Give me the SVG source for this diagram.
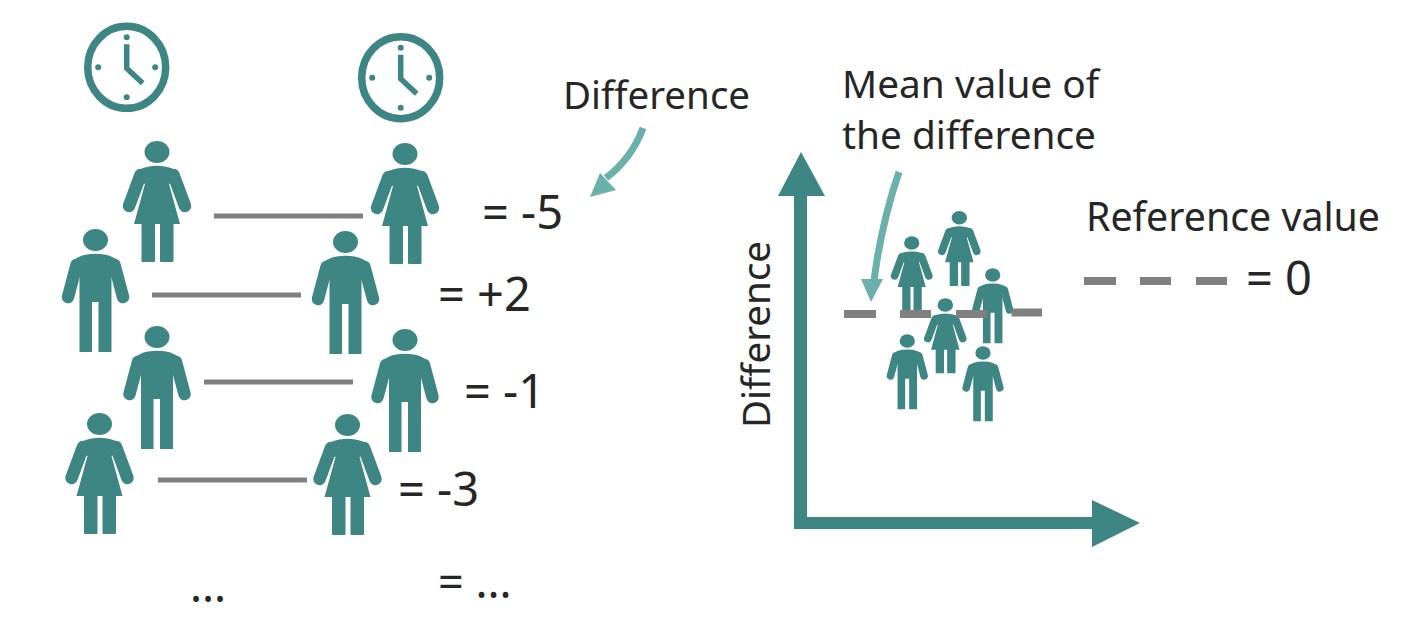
<svg xmlns="http://www.w3.org/2000/svg" width="1414" height="618" viewBox="0 0 1414 618">
<style>
text{font-family:"Noto Sans","Open Sans","Liberation Sans",sans-serif;font-size:38.500px;fill:#262626}
text.ref{font-size:39.300px}
text.mean{font-size:38.800px}
text.eq{font-size:47px}
text.dots{font-size:45px}
.p{fill:#3e8684}
.arm{fill:none;stroke:#3e8684;stroke-width:12.500;stroke-linecap:round;stroke-linejoin:round}
.clock{fill:#fff;stroke:#3e8684;stroke-width:7.500}
.hand{fill:none;stroke:#3e8684;stroke-width:5.500;stroke-linejoin:miter}
.link{stroke:#808080;stroke-width:5;fill:none}
.dash{stroke:#808080;stroke-width:8;fill:none}
.callout{fill:none;stroke:#6bb0ab;stroke-width:7}
.head{fill:#6bb0ab}
.axis{fill:#3e8684}
</style>
<defs>
<g id="female">
<ellipse class="p" cx="0" cy="0" rx="12.500" ry="11"/>
<path class="p" d="M-21,20Q-17,16-8,14.500Q0,13 8,14.500Q17,16 21,20L20,28L12,32L23,72H-23L-12,32L-20,28Z"/>
<path class="arm" d="M-16.500,23L-28,54M16.500,23L28,54"/>
<rect class="p" x="-15.500" y="70" width="13.500" height="40" rx="1"/>
<rect class="p" x="3" y="70" width="13.500" height="40" rx="1"/>
</g>
<g id="male">
<ellipse class="p" cx="0" cy="0" rx="12.500" ry="11"/>
<path class="p" d="M-24,22Q-18,16-9,14.500Q0,13 9,14.500Q18,16 24,22L16,38V112H3V62H-3.500V112H-16V38Z"/>
<path class="arm" d="M-19,25L-27.500,57M19,25L27.500,57"/>
</g>
<g id="clk">
<ellipse class="clock" cx="0" cy="0" rx="39" ry="41"/>
<circle class="p" cx="0" cy="-30" r="3"/><circle class="p" cx="0" cy="30" r="3"/>
<circle class="p" cx="-28.500" cy="0" r="3"/><circle class="p" cx="28.500" cy="0" r="3"/>
<path class="hand" d="M0,-23V1L16,16"/>
</g>
</defs>
<use id="clock-1" href="#clk" x="126.700" y="67.300"/>
<use id="clock-2" href="#clk" x="400.700" y="77.700"/>
<use id="person-1a" href="#female" x="157" y="152"/>
<use id="person-1b" href="#female" x="405" y="154"/>
<use id="person-2a" href="#male" x="95.500" y="240"/>
<use id="person-2b" href="#male" x="345.500" y="242"/>
<use id="person-3a" href="#male" x="157" y="337"/>
<use id="person-3b" href="#male" x="405" y="340"/>
<use id="person-4a" href="#female" x="99.500" y="424"/>
<use id="person-4b" href="#female" x="347.500" y="425"/>
<use id="small-1" href="#female" transform="translate(911.700 243) scale(.61)"/>
<use id="small-2" href="#female" transform="translate(959.300 217.700) scale(.62)"/>
<use id="small-3" href="#male" transform="translate(992.700 275) scale(.61)"/>
<use id="small-4" href="#female" transform="translate(945.300 305) scale(.62)"/>
<use id="small-5" href="#male" transform="translate(907.300 341) scale(.61)"/>
<use id="small-6" href="#male" transform="translate(983 353) scale(.61)"/>
<g id="connectors">
<path class="link" d="M214,216H363M152,295H301M204,382H353M158,480H307"/>
<path class="dash" d="M844,314H876M900,314H931M956,314H987M1011.500,312.500H1042"/>
<path class="dash" d="M1084,281H1116M1140,281H1171M1196,281H1227"/>
<path class="callout" d="M643,128Q632,158 606,178"/>
<path class="head" d="M590,197L600,173L616,190Z"/>
<path class="callout" d="M899,172Q881,225 874,281"/>
<path class="head" d="M861,279H883L871,302Z"/>
<path class="axis" d="M794,525V196H778L801,152L825,196H807V517H1092V500L1140,523L1092,547V529H794Z"/>
</g>
<g id="labels">
<text x="563" y="109">Difference</text>
<text class="eq" x="482" y="229">= -5</text>
<text class="eq" x="438" y="311">= +2</text>
<text class="eq" x="464" y="408">= -1</text>
<text class="eq" x="398" y="506">= -3</text>
<text class="dots" x="190" y="602">...</text>
<text class="dots" x="438" y="598">= ...</text>
<text class="mean" x="842" y="98">Mean value of</text>
<text class="mean" x="842" y="149">the difference</text>
<text class="ref" x="1086" y="231">Reference value</text>
<text class="eq" x="1246" y="295">= 0</text>
<text transform="translate(770 428) rotate(-90)">Difference</text>
</g>
</svg>
